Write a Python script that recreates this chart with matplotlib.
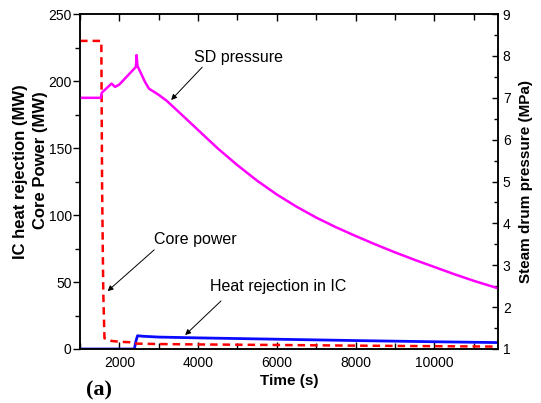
import matplotlib
matplotlib.use('Agg')
import matplotlib.pyplot as plt
from matplotlib.ticker import MultipleLocator

plt.rcParams['font.family'] = ['Liberation Sans', 'DejaVu Sans']

# core power (MW)
t_core = [1000, 1540, 1560, 1590, 1620, 1800, 2000, 2300, 2450, 3000, 4000, 6000, 8000, 10000, 11620]
p_core = [230, 230, 120, 42, 8, 6, 5.4, 5, 4, 3.7, 3.4, 3.0, 2.5, 2.1, 1.8]

# heat rejection in the isolation condenser (MW)
t_ic = [1000, 2380, 2420, 2460, 2600, 3000, 4000, 6000, 8000, 10000, 11620]
q_ic = [0, 0, 6, 9.9, 9.5, 8.9, 8.3, 7.3, 6.3, 5.4, 4.8]

# steam drum pressure (MPa)
t_sd = [1000, 1530, 1550, 1800, 1890, 2000, 2420, 2435, 2460, 2650, 2750, 2900, 3000,
        3200, 3500, 4000, 4500, 5000, 5500, 6000, 6500, 7000, 7500, 8000, 8500,
        9000, 9500, 10000, 10500, 11000, 11620]
p_sd = [7.0, 7.0, 7.12, 7.34, 7.26, 7.32, 7.74, 8.02, 7.76, 7.38, 7.22, 7.13, 7.07,
        6.93, 6.67, 6.23, 5.79, 5.39, 5.02, 4.69, 4.40, 4.14, 3.91, 3.70, 3.50,
        3.31, 3.13, 2.96, 2.79, 2.63, 2.45]

fig = plt.figure(figsize=(5.41, 4.03), dpi=100)
ax = fig.add_axes([0.148, 0.134, 0.7725, 0.831])
ax2 = ax.twinx()

ax.plot(t_core, p_core, color='red', lw=1.8, ls=(0, (3, 2)), zorder=3)
ax.plot(t_ic, q_ic, color='#0a0aff', lw=2.0, zorder=2)
ax2.plot(t_sd, p_sd, color='#ff00ff', lw=1.8, solid_joinstyle='round')

ax.set_xlim(1000, 11620)
ax.set_ylim(0, 250)
ax2.set_ylim(1, 9)

ax.xaxis.set_major_locator(MultipleLocator(2000))
ax.xaxis.set_minor_locator(MultipleLocator(1000))
ax.yaxis.set_major_locator(MultipleLocator(50))
ax.yaxis.set_minor_locator(MultipleLocator(25))
ax2.yaxis.set_major_locator(MultipleLocator(1))
ax2.yaxis.set_minor_locator(MultipleLocator(0.5))

ax.tick_params(axis='x', which='both', direction='in', top=True, labelsize=10, pad=5)
ax.tick_params(axis='x', which='major', length=5, width=1)
ax.tick_params(axis='x', which='minor', length=4, width=1)
ax.tick_params(axis='y', which='both', direction='out', labelsize=10, width=1, pad=1)
ax.tick_params(axis='y', which='major', length=5)
ax.tick_params(axis='y', which='minor', length=3.5)
ax2.tick_params(axis='y', which='both', direction='in', labelsize=10, width=1)
ax2.tick_params(axis='y', which='major', length=4)
ax2.tick_params(axis='y', which='minor', length=3)
ax.set_xticks([2000, 4000, 6000, 8000, 10000])

for a in (ax, ax2):
    for s in a.spines.values():
        s.set_linewidth(1.1)

ax.set_xlabel('Time (s)', fontsize=11, fontweight='bold', labelpad=3)
ax2.set_ylabel('Steam drum pressure (MPa)', fontsize=11, fontweight='bold', labelpad=6)

# two-line left axis title
fig.text(21 / 541, 1 - 171.5 / 403, 'IC heat rejection (MW)', rotation=90,
         fontsize=12, fontweight='bold', ha='center', va='center')
fig.text(41 / 541, 1 - 160.5 / 403, 'Core Power (MW)', rotation=90,
         fontsize=12, fontweight='bold', ha='center', va='center')

# labels with leader arrows
arrow = dict(arrowstyle='-|>', color='black', lw=0.7, mutation_scale=8)
ax2.text(5038, 7.97, 'SD pressure', fontsize=11.5, ha='center', va='center')
ax2.annotate('', xy=(3266, 6.9), xytext=(4152, 7.78), arrowprops=arrow)
ax.text(2886, 82, 'Core power', fontsize=11.5, ha='left', va='center')
ax.annotate('', xy=(1646, 41.8), xytext=(2937, 75.4), arrowprops=arrow)
ax.text(4304, 47, 'Heat rejection in IC', fontsize=11.5, ha='left', va='center')
ax.annotate('', xy=(3620, 9), xytext=(4633, 37.3), arrowprops=arrow)

fig.text(0.159, 0.032, '(a)', fontsize=16, fontweight='bold',
         family='Liberation Serif', ha='left', va='center')

fig.savefig('out.png', dpi=100)
